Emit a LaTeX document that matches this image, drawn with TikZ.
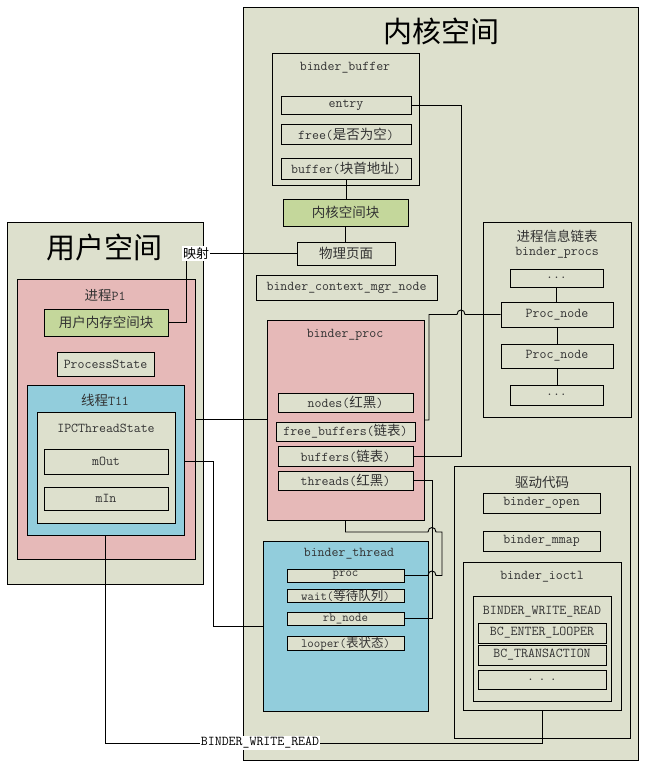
\documentclass[tikz,border=0pt]{standalone}
\usepackage{fontspec}
\newfontfamily\cjk{Noto Sans CJK SC}
\definecolor{beige}{RGB}{221,224,205}
\definecolor{pinkc}{RGB}{230,185,184}
\definecolor{bluec}{RGB}{146,205,220}
\definecolor{greenc}{RGB}{196,215,155}
\definecolor{txt}{RGB}{50,50,50}
\newcommand\mkbox[7]{\node[box,#1,minimum width={(#5-#3)*1pt},minimum height={(#6-#4)*1pt}] (#2) at ({(#3+#5)/2},{(#4+#6)/2}) {#7};}
\tikzset{
  box/.style={draw=black,line width=0.9pt,inner sep=0pt,fill=beige,text=txt,font=\ttfamily\fontsize{13.5}{15}\selectfont},
  small/.style={font=\ttfamily\fontsize{12.5}{13}\selectfont},
  lbl/.style={inner sep=0pt,text=txt,font=\ttfamily\fontsize{13.5}{15}\selectfont},
  title/.style={inner sep=0pt,text=black,font=\cjk\fontsize{29}{31}\selectfont},
  conn/.style={draw=black,line width=0.9pt},
  tag/.style={fill=white,inner sep=1pt,text=black,font=\ttfamily\fontsize{13.5}{15}\selectfont}
}
\begin{document}
\begin{tikzpicture}[x=1pt,y=-1pt]
\useasboundingbox[fill=white] (0,0) rectangle (647,769);
% kernel space
\mkbox{}{kernel}{243}{7}{638}{760}{}
\node[title] (kt) at (441,31) {内核空间};
% user space
\mkbox{}{user}{7}{222}{203}{584}{}
\node[title] (ut) at (104,247) {用户空间};
\mkbox{fill=pinkc}{p1}{17}{279}{195}{559}{}
\node[lbl] (p1l) at (105,295) {{\cjk 进程}P1};
\mkbox{fill=greenc}{umem}{44}{309}{168}{336}{{\cjk 用户内存空间块}}
\mkbox{}{pstate}{57}{352}{154}{376}{ProcessState}
\mkbox{fill=bluec}{thread}{27}{385}{184}{535}{}
\node[lbl] (thl) at (105,400) {{\cjk 线程}T11};
\mkbox{}{ipc}{37}{412}{175}{523}{}
\node[lbl] (ipcl) at (106,428) {IPCThreadState};
\mkbox{}{mout}{44}{449}{168}{474}{mOut}
\mkbox{}{min}{44}{487}{168}{510}{mIn}
% binder_buffer
\mkbox{}{bbuf}{272}{53}{419}{185}{}
\node[lbl] (bbufl) at (345,68) {binder\_buffer};
\mkbox{}{entry}{281}{96}{411}{114}{entry}
\mkbox{}{free}{281}{124}{411}{144}{free({\cjk 是否为空})}
\mkbox{}{bufaddr}{281}{158}{411}{179}{buffer({\cjk 块首地址})}
\mkbox{fill=greenc}{kblock}{283}{199}{408}{226}{{\cjk 内核空间块}}
\mkbox{}{phys}{297}{242}{395}{265}{{\cjk 物理页面}}
\mkbox{}{ctx}{256}{275}{437}{300}{binder\_context\_mgr\_node}
% binder_proc
\mkbox{fill=pinkc}{bproc}{267}{320}{424}{520}{}
\node[lbl] (bprocl) at (345,335) {binder\_proc};
\mkbox{}{nodes}{278}{393}{413}{412}{nodes({\cjk 红黑})}
\mkbox{}{fbuf}{276}{422}{415}{441}{free\_buffers({\cjk 链表})}
\mkbox{}{bufs}{278}{446}{413}{466}{buffers({\cjk 链表})}
\mkbox{}{threads}{278}{471}{413}{490}{threads({\cjk 红黑})}
% process list
\mkbox{}{plist}{483}{222}{631}{417}{}
\node[lbl] (plistl1) at (557,236) {{\cjk 进程信息链表}};
\node[lbl] (plistl2) at (557,253) {binder\_procs};
\mkbox{}{d1}{510}{269}{603}{287}{...}
\mkbox{}{pn1}{501}{302}{613}{327}{Proc\_node}
\mkbox{}{pn2}{501}{344}{613}{368}{Proc\_node}
\mkbox{}{d2}{510}{385}{603}{405}{...}
% binder_thread
\mkbox{fill=bluec}{bthread}{263}{541}{428}{711}{}
\node[lbl] (bthreadl) at (349,554) {binder\_thread};
\mkbox{small}{tproc}{287}{569}{404}{582}{proc}
\mkbox{small}{twait}{287}{589}{404}{602}{wait({\cjk 等待队列})}
\mkbox{small}{trb}{287}{612}{404}{625}{rb\_node}
\mkbox{small}{tloop}{287}{637}{404}{650}{looper({\cjk 表状态})}
% driver code
\mkbox{}{drv}{454}{466}{630}{738}{}
\node[lbl] (drvl) at (542,482) {{\cjk 驱动代码}};
\mkbox{}{bopen}{483}{493}{600}{513}{binder\_open}
\mkbox{}{bmmap}{483}{531}{600}{551}{binder\_mmap}
\mkbox{}{ioctl}{463}{562}{621}{710}{}
\node[lbl] (ioctll) at (542,577) {binder\_ioctl};
\mkbox{}{bwr}{473}{596}{611}{701}{}
\node[lbl] (bwrl) at (542,612) {BINDER\_WRITE\_READ};
\mkbox{}{bcl}{478}{623}{606}{643}{BC\_ENTER\_LOOPER}
\mkbox{}{bct}{478}{645}{606}{665}{BC\_TRANSACTION}
\mkbox{}{bcd}{478}{670}{606}{689}{.\,\,.\,\,.}
% connectors
\draw[conn] (bufaddr.south) -- (bufaddr.south |- kblock.north);
\draw[conn] (kblock.south) -- (kblock.south |- phys.north);
\draw[conn] (d1.south) -- (d1.south |- pn1.north);
\draw[conn] (pn1.south) -- (pn1.south |- pn2.north);
\draw[conn] (pn2.south) -- (pn2.south |- d2.north);
\draw[conn] (entry.east) -- (461,105) -- (461,456) -- (bufs.east);
\draw[conn] (bproc.east) -- (429,420) -- (429,314.5) -- (457,314.5) .. controls (457,308.5) and (465,308.5) .. (465,314.5) -- (pn1.west);
\draw[conn] (threads.east) -- (432,480.5) -- (432,618.5) -- (trb.east);
\draw[conn] (tproc.east) -- (428,575.5) .. controls (428,569.5) and (436,569.5) .. (436,575.5) -- (442,575.5) -- (442,532) -- (436,532) .. controls (436,526) and (428,526) .. (428,532) -- (bproc.south |- 0,532) -- (bproc.south);
\draw[conn] (p1.east) -- (p1.east -| bproc.west);
\coordinate (mo) at (thread.east |- mout.east);
\draw[conn] (mo) -- (213,461.5) -- (213,626) -- (bthread.west);
\draw[conn] (umem.east) -- (186,322.5) -- (186,253.5) -- (phys.west);
\node[tag,font=\cjk\fontsize{13}{15}\selectfont] (ys) at (196,253.5) {映射};
\draw[conn] (thread.south) -- (thread.south |- 0,743) -| (ioctl.south);
\node[tag] (bwrtag) at (260,743) {BINDER\_WRITE\_READ};
\end{tikzpicture}
\end{document}
